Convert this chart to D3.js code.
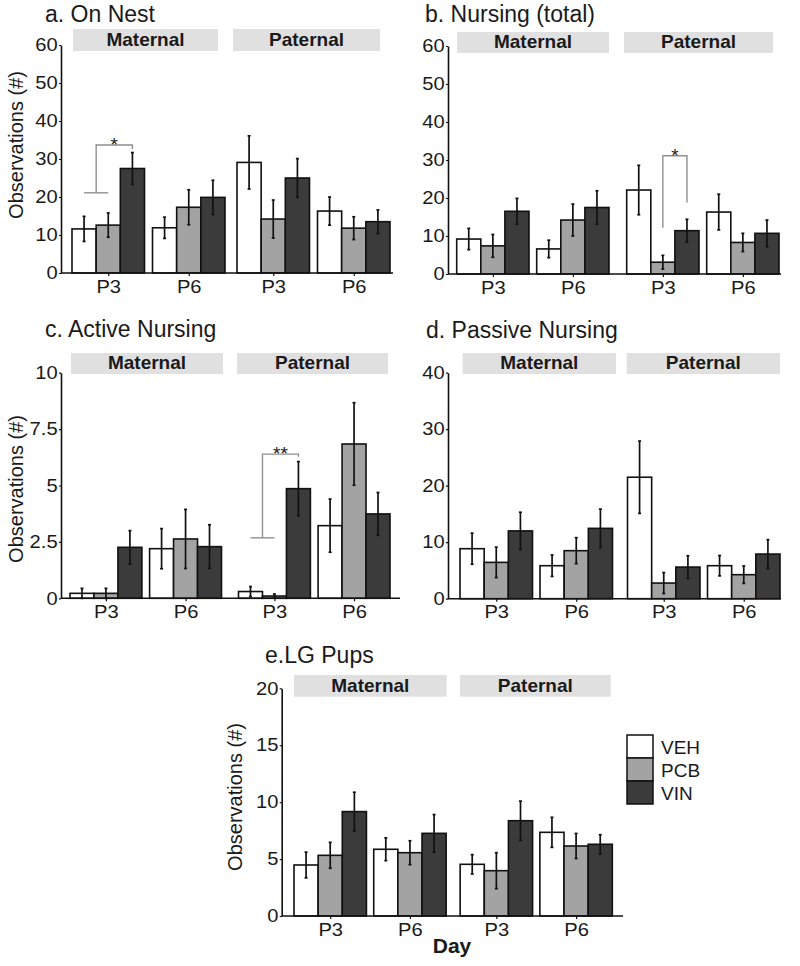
<!DOCTYPE html>
<html><head><meta charset="utf-8">
<script src="https://cdn.jsdelivr.net/npm/d3@7"></script>
<style>
body{margin:0;background:#fff}
svg{display:block}
text{font-family:"Liberation Sans",Arial,Helvetica,sans-serif;fill:#1a1a1a}
</style>
</head><body>
<svg id="chart" width="800" height="966"></svg>
<script>
// ---------- DATA ----------
const facets = ["Maternal", "Paternal"];
const days = ["P3", "P6"];
const treatments = ["VEH", "PCB", "VIN"];
const treatmentColors = ["#ffffff", "#a3a3a3", "#3b3b3b"];

// order: Maternal P3 (VEH,PCB,VIN), Maternal P6, Paternal P3, Paternal P6
const onNestMean = [11.6, 12.6, 27.5, 11.9, 17.3, 19.9, 29.1, 14.2, 25.0, 16.3, 11.8, 13.5];
const onNestErr  = [3.3, 3.2, 4.2, 2.8, 4.6, 4.5, 7.0, 5.0, 5.1, 3.7, 3.0, 3.1];

const nursingTotalMean = [9.2, 7.4, 16.5, 6.6, 14.2, 17.5, 22.1, 3.1, 11.4, 16.3, 8.3, 10.7];
const nursingTotalErr  = [2.8, 3.0, 3.4, 2.3, 4.2, 4.4, 6.5, 1.8, 3.0, 4.7, 2.4, 3.5];

const activeNursingMean = [0.22, 0.22, 2.26, 2.2, 2.63, 2.29, 0.3, 0.1, 4.86, 3.22, 6.84, 3.74];
const activeNursingErr  = [0.22, 0.22, 0.74, 0.89, 1.31, 0.97, 0.22, 0.09, 1.2, 1.18, 1.83, 0.95];

const passiveNursingMean = [8.85, 6.43, 12.0, 5.84, 8.5, 12.45, 21.5, 2.77, 5.6, 5.84, 4.25, 7.9];
const passiveNursingErr  = [2.75, 2.7, 3.3, 1.9, 2.3, 3.4, 6.4, 1.86, 2.0, 1.8, 1.55, 2.55];

const lgPupsMean = [4.48, 5.33, 9.17, 5.86, 5.56, 7.26, 4.54, 3.98, 8.37, 7.35, 6.15, 6.3];
const lgPupsErr  = [1.13, 1.14, 1.7, 1.0, 1.05, 1.65, 0.85, 1.58, 1.72, 1.32, 1.1, 0.84];

const ticks60 = [0, 10, 20, 30, 40, 50, 60];
const ticks10 = [0, 2.5, 5, 7.5, 10];
const ticks40 = [0, 10, 20, 30, 40];
const ticks20 = [0, 5, 10, 15, 20];

// significance brackets
const bracketPanel = ["a", "b", "c"];
const bracketFacet = ["Maternal", "Paternal", "Paternal"];
const bracketDay = ["P3", "P3", "P3"];
const bracketFrom = [["VEH", "PCB"], ["PCB"], ["VEH", "PCB"]];
const bracketTo = ["VIN", "VIN", "VIN"];
const bracketLow = [21.1, 12.2, 2.68];
const bracketHigh = [33.7, 31.1, 6.39];
const bracketEnd = [32.6, 18.8, 6.27];
const bracketLabel = ["*", "*", "**"];

// ---------- LAYOUT ----------
const panels = [
  {id:"a", title:"a. On Nest", mean:onNestMean, err:onNestErr, ymax:60, ticks:ticks60,
   tx:45, ty:22, axisX:61, axisEnd:393, y0:273, yTop:45, bx:[72,390], facetGap:12, dayGap:8,
   strips:[[73,218],[233,380]], stripY:[29,51], ylab:{x:23,y:145}},
  {id:"b", title:"b. Nursing (total)", mean:nursingTotalMean, err:nursingTotalErr, ymax:60, ticks:ticks60,
   tx:425, ty:22, axisX:448, axisEnd:781, y0:274, yTop:46, bx:[456.7,779], facetGap:17.7, dayGap:7.7,
   strips:[[457,609],[624,773]], stripY:[32,53]},
  {id:"c", title:"c. Active Nursing", mean:activeNursingMean, err:activeNursingErr, ymax:10, ticks:ticks10,
   tx:45, ty:337, axisX:61, axisEnd:400, y0:598.3, yTop:372.7, bx:[70,390], facetGap:17, dayGap:7.7,
   strips:[[71,223],[237,388]], stripY:[353,374], ylab:{x:23,y:489}},
  {id:"d", title:"d. Passive Nursing", mean:passiveNursingMean, err:passiveNursingErr, ymax:40, ticks:ticks40,
   tx:426, ty:338, axisX:448, axisEnd:781, y0:598.7, yTop:372.7, bx:[460,780], facetGap:15, dayGap:7.5,
   strips:[[462.7,616],[626.7,780]], stripY:[353,374]},
  {id:"e", title:"e.LG Pups", mean:lgPupsMean, err:lgPupsErr, ymax:20, ticks:ticks20,
   tx:265, ty:663, axisX:281.7, axisEnd:623, y0:916, yTop:688.3, bx:[294,612.3], facetGap:14, dayGap:7.3,
   strips:[[294,446.7],[460,610.7]], stripY:[675,696.7], ylab:{x:242,y:797}}
];

const svg = d3.select("#chart");
const TXT_STRETCH = "scale(1.12,1)";

function bandPadding(width, gap, n) {
  const step = (width + gap) / n;
  return gap / step;
}

panels.forEach(p => {
  const g = svg.append("g");
  const rows = p.mean.map((v, i) => ({
    facet: facets[Math.floor(i / 6)],
    day: days[Math.floor(i / 3) % 2],
    trt: treatments[i % 3],
    ti: i % 3,
    mean: v,
    err: p.err[i]
  }));

  const W = p.bx[1] - p.bx[0];
  const xF = d3.scaleBand().domain(facets).range(p.bx)
    .paddingInner(bandPadding(W, p.facetGap, 2)).paddingOuter(0);
  const fw = xF.bandwidth();
  const xD = d3.scaleBand().domain(days).range([0, fw])
    .paddingInner(bandPadding(fw, p.dayGap, 2)).paddingOuter(0);
  const xT = d3.scaleBand().domain(treatments).range([0, xD.bandwidth()]).padding(0);
  const xPos = (f, d, t) => xF(f) + xD(d) + xT(t);
  const y = d3.scaleLinear().domain([0, p.ymax]).range([p.y0, p.yTop]);

  // title
  g.append("text").attr("x", p.tx).attr("y", p.ty)
    .style("font-size", "23px").text(p.title);

  // strips
  facets.forEach((f, i) => {
    const s = p.strips[i];
    g.append("rect").attr("x", s[0]).attr("y", p.stripY[0])
      .attr("width", s[1] - s[0]).attr("height", p.stripY[1] - p.stripY[0])
      .attr("fill", "#e0e0e0");
    g.append("text").attr("x", (s[0] + s[1]) / 2).attr("y", p.stripY[1] - 5)
      .attr("text-anchor", "middle").style("font-size", "19px").style("font-weight", "bold")
      .text(f);
  });

  // bars
  g.selectAll("rect.bar").data(rows).enter().append("rect")
    .attr("class", "bar")
    .attr("x", d => xPos(d.facet, d.day, d.trt))
    .attr("width", xT.bandwidth())
    .attr("y", d => y(d.mean))
    .attr("height", d => y(0) - y(d.mean))
    .attr("fill", d => treatmentColors[d.ti])
    .attr("stroke", "#111").attr("stroke-width", 1.6);

  // error bars
  const eb = g.selectAll("g.eb").data(rows).enter().append("g").attr("class", "eb");
  const cx = d => xPos(d.facet, d.day, d.trt) + xT.bandwidth() / 2;
  eb.append("line")
    .attr("x1", cx).attr("x2", cx)
    .attr("y1", d => y(Math.max(0, d.mean - d.err)))
    .attr("y2", d => y(d.mean + d.err))
    .attr("stroke", "#111").attr("stroke-width", 1.7);
  [d => d.mean - d.err, d => d.mean + d.err].forEach(fn => {
    eb.append("line")
      .attr("x1", d => cx(d) - 1.5).attr("x2", d => cx(d) + 1.5)
      .attr("y1", d => y(Math.max(0, fn(d)))).attr("y2", d => y(Math.max(0, fn(d))))
      .attr("stroke", "#111").attr("stroke-width", 1.7);
  });

  // y axis
  const yAxis = d3.axisLeft(y).tickValues(p.ticks).tickSize(2).tickPadding(1).tickSizeOuter(0)
    .tickFormat(d => String(d));
  const ya = g.append("g").attr("transform", `translate(${p.axisX},0)`).call(yAxis);
  ya.select(".domain").attr("stroke", "#111").attr("stroke-width", 1.6);
  ya.selectAll(".tick line").attr("stroke", "#111").attr("stroke-width", 1.2);
  ya.selectAll(".tick text").style("font-size", "18px").attr("fill", "#1a1a1a")
    .style("font-family", '"Liberation Sans",Arial,sans-serif').attr("transform", TXT_STRETCH);

  // x axis
  const keys = [], centers = [];
  facets.forEach(f => days.forEach(d => {
    keys.push(f + "|" + d);
    centers.push(xF(f) + xD(d) + xD.bandwidth() / 2);
  }));
  const xc = d3.scaleOrdinal().domain(keys).range(centers);
  const xAxis = d3.axisBottom(xc).tickSize(3).tickPadding(4).tickFormat(k => k.split("|")[1]);
  const xa = g.append("g").attr("transform", `translate(0,${p.y0})`).call(xAxis);
  xa.select(".domain").remove();
  xa.selectAll(".tick line").attr("stroke", "#111").attr("stroke-width", 1.2);
  xa.selectAll(".tick text").style("font-size", "18px").attr("fill", "#1a1a1a")
    .style("font-family", '"Liberation Sans",Arial,sans-serif').attr("transform", TXT_STRETCH);
  g.append("line").attr("x1", p.axisX).attr("x2", p.axisEnd)
    .attr("y1", p.y0).attr("y2", p.y0).attr("stroke", "#111").attr("stroke-width", 1.6);

  // y label
  if (p.ylab) {
    g.append("text").attr("transform", `translate(${p.ylab.x},${p.ylab.y}) rotate(-90)`)
      .attr("text-anchor", "middle").style("font-size", "20px").text("Observations (#)");
  }

  // significance brackets
  bracketPanel.forEach((bp, i) => {
    if (bp !== p.id) return;
    const f = bracketFacet[i], d = bracketDay[i];
    const fromCenters = bracketFrom[i].map(t => xPos(f, d, t) + xT.bandwidth() / 2);
    const xl = d3.mean(fromCenters);
    const xr = xPos(f, d, bracketTo[i]) + xT.bandwidth() / 2;
    const bg = g.append("g").attr("stroke", "#8f8f8f").attr("stroke-width", 1.4).attr("fill", "none");
    if (fromCenters.length > 1) {
      bg.append("line").attr("x1", d3.min(fromCenters)).attr("x2", d3.max(fromCenters))
        .attr("y1", y(bracketLow[i])).attr("y2", y(bracketLow[i]));
    }
    bg.append("path").attr("d",
      `M${xl},${y(bracketLow[i])}V${y(bracketHigh[i])}H${xr}V${y(bracketEnd[i])}`);
    g.append("text").attr("x", (xl + xr) / 2).attr("y", y(bracketHigh[i]) + 6)
      .attr("text-anchor", "middle").style("font-size", "19px").text(bracketLabel[i]);
  });
});

// x title
svg.append("text").attr("x", 452).attr("y", 953).attr("text-anchor", "middle")
  .style("font-size", "21px").style("font-weight", "bold").text("Day");

// legend
const legY = d3.scaleBand().domain(treatments).range([735, 804]);
const leg = svg.append("g");
treatments.forEach((t, i) => {
  leg.append("rect").attr("x", 627).attr("y", legY(t)).attr("width", 26).attr("height", legY.bandwidth())
    .attr("fill", treatmentColors[i]).attr("stroke", "#111").attr("stroke-width", 1.5);
  leg.append("text").attr("x", 661).attr("y", legY(t) + legY.bandwidth() / 2 + 7)
    .style("font-size", "19px").text(t);
});
</script>
</body></html>
